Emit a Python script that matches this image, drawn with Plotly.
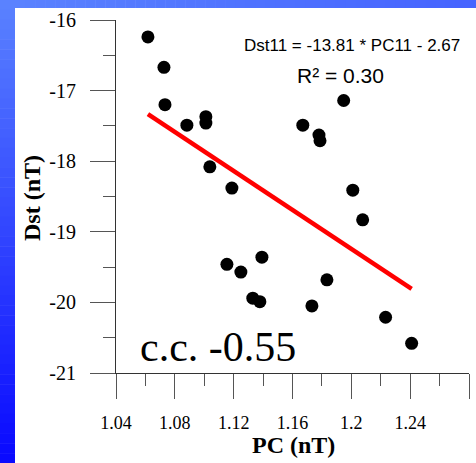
import plotly.graph_objects as go

# ---- data ----
pc = [1.0617, 1.0726, 1.0733, 1.0882, 1.1011, 1.1011, 1.1038, 1.1188, 1.1154,
      1.1249, 1.1392, 1.1330, 1.1378, 1.1732, 1.1834, 1.1670, 1.1780, 1.1787,
      1.1948, 1.2010, 1.2077, 1.2233, 1.2410]
dst = [-16.24, -16.67, -17.20, -17.49, -17.37, -17.46, -18.08, -18.38, -19.46,
       -19.57, -19.36, -19.94, -19.99, -20.05, -19.68, -17.49, -17.63, -17.71,
       -17.14, -18.41, -18.83, -20.21, -20.58]
slope = -13.81
intercept = -2.67
x_ticks = [1.04, 1.08, 1.12, 1.16, 1.20, 1.24, 1.28]
x_ticktext = ["1.04", "1.08", "1.12", "1.16", "1.2", "1.24", "1.28"]
y_ticks = [-21, -20, -19, -18, -17, -16]
y_ticktext = ["-21", "-20", "-19", "-18", "-17", "-16"]
eq_text = "Dst11 = -13.81 * PC11 - 2.67"
r2_text = "R² = 0.30"
cc_text = "c.c. -0.55"

W, H = 476, 463
ML, MR, MT, MB = 116, 7, 20, 90
PW, PH = W - ML - MR, H - MT - MB


def px(x):
    return (x - ML) / PW


def py(y):
    return (H - MB - y) / PH


fit_x = [min(pc), max(pc)]
fit_y = [slope * v + intercept for v in fit_x]

fig = go.Figure()
fig.add_trace(go.Scatter(x=fit_x, y=fit_y, mode="lines",
                         line=dict(color="#ff0000", width=4.5), hoverinfo="skip"))
fig.add_trace(go.Scatter(x=pc, y=dst, mode="markers",
                         marker=dict(color="black", size=13)))

shapes = []
# left gradient stripe
n = 47
for i in range(n):
    t = i / (n - 1)
    r = int(90 + (10 - 90) * t)
    g = int(130 + (10 - 130) * t)
    y0, y1 = i * H / n, (i + 1) * H / n + 0.5
    shapes.append(dict(type="rect", xref="paper", yref="paper", layer="below",
                       x0=px(0), x1=px(15), y0=py(y1), y1=py(y0),
                       fillcolor=f"rgb({r},{g},255)", line=dict(width=0)))
# top gradient stripe
n = 46
for i in range(n):
    t = i / (n - 1)
    r = int(90 + (70 - 90) * t)
    g = int(130 + (100 - 130) * t)
    x0 = 15 + i * (W - 15) / n
    x1 = 15 + (i + 1) * (W - 15) / n + 0.5
    shapes.append(dict(type="rect", xref="paper", yref="paper", layer="below",
                       x0=px(x0), x1=px(x1), y0=py(8), y1=py(0),
                       fillcolor=f"rgb({r},{g},255)", line=dict(width=0)))

serif = "Liberation Serif"
sans = "Liberation Sans"

annotations = [
    dict(text=eq_text, x=px(352), y=py(45), xref="paper", yref="paper",
         showarrow=False, xanchor="center", yanchor="middle",
         font=dict(family=sans, size=17, color="black")),
    dict(text=r2_text, x=px(340), y=py(75), xref="paper", yref="paper",
         showarrow=False, xanchor="center", yanchor="middle",
         font=dict(family=sans, size=21, color="black")),
    dict(text=cc_text, x=px(218), y=py(347), xref="paper", yref="paper",
         showarrow=False, xanchor="center", yanchor="middle",
         font=dict(family=serif, size=42, color="black")),
    dict(text="<b>PC (nT)</b>", x=px(293), y=py(445), xref="paper", yref="paper",
         showarrow=False, xanchor="center", yanchor="middle",
         font=dict(family=serif, size=24, color="black")),
    dict(text="<b>Dst (nT)</b>", x=px(32), y=py(198), xref="paper", yref="paper",
         showarrow=False, xanchor="center", yanchor="middle", textangle=-90,
         font=dict(family=serif, size=24, color="black")),
]

axis_common = dict(showline=True, linecolor="#333333", linewidth=1,
                   ticks="outside", ticklen=25, tickwidth=1, tickcolor="#555555",
                   showgrid=False, zeroline=False, mirror=False)

pad = "\u00a0\u00a0\u200b"
fig.update_layout(
    width=W, height=H,
    margin=dict(l=ML, r=MR, t=MT, b=MB, pad=0),
    paper_bgcolor="white", plot_bgcolor="white",
    showlegend=False,
    shapes=shapes,
    annotations=annotations,
    xaxis=dict(range=[1.04, 1.28], tickmode="array", tickvals=x_ticks,
               ticktext=x_ticktext, ticklabelstandoff=8,
               tickfont=dict(family=serif, size=18, color="black"),
               minor=dict(ticks="outside", ticklen=12, dtick=0.02,
                          tick0=1.04, tickcolor="#555555", tickwidth=1, showgrid=False),
               **axis_common),
    yaxis=dict(range=[-21, -16], tickmode="array", tickvals=y_ticks,
               ticktext=[t + pad for t in y_ticktext],
               tickfont=dict(family=serif, size=20, color="black"),
               minor=dict(ticks="outside", ticklen=12, dtick=0.5,
                          tick0=-21, tickcolor="#555555", tickwidth=1, showgrid=False),
               **axis_common),
)

fig.write_html("out.html")
